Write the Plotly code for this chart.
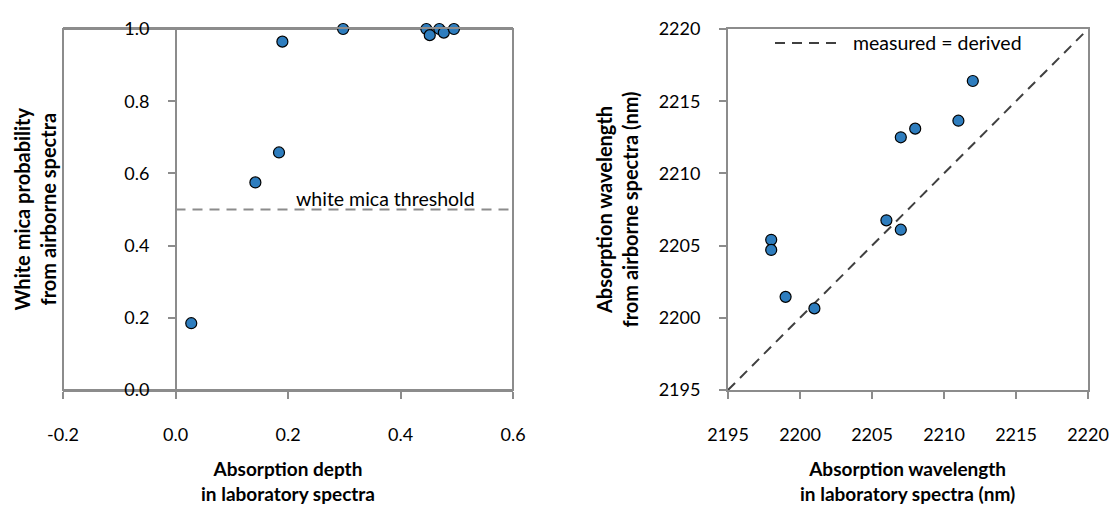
import plotly.graph_objects as go

# ---- data ----
depth_lab = [0.028, 0.142, 0.184, 0.190, 0.298, 0.446, 0.452, 0.469, 0.477, 0.495]
prob_air = [0.185, 0.575, 0.658, 0.965, 1.0, 1.0, 0.983, 1.0, 0.990, 1.0]

wl_lab = [2198, 2198, 2199, 2201, 2206, 2207, 2207, 2208, 2211, 2212]
wl_air = [2205.4, 2204.7, 2201.45, 2200.65, 2206.75, 2206.1, 2212.5, 2213.1, 2213.65, 2216.4]

threshold_x = [0.0, 0.6]
threshold_y = [0.5, 0.5]
identity = [2195, 2220]

x1_ticks = [-0.2, 0.0, 0.2, 0.4, 0.6]
y1_ticks = [0.0, 0.2, 0.4, 0.6, 0.8, 1.0]
wl_ticks = [2195, 2200, 2205, 2210, 2215, 2220]

W, H = 1111, 506
FONT = "Lato"
AX = "#8c8c8c"
BLUE = "#2E7DBE"

def px(x):
    return x / W

def py(y):
    return 1 - y / H

fig = go.Figure()

fig.add_trace(go.Scatter(x=threshold_x, y=threshold_y, mode="lines",
                         line=dict(color="#8c8c8c", width=2, dash="10px,7px"),
                         xaxis="x", yaxis="y", showlegend=False, hoverinfo="skip"))
fig.add_trace(go.Scatter(x=depth_lab, y=prob_air, mode="markers",
                         marker=dict(color=BLUE, size=11, line=dict(color="black", width=1.2)),
                         cliponaxis=False, xaxis="x", yaxis="y", showlegend=False))

fig.add_trace(go.Scatter(x=identity, y=identity, mode="lines",
                         line=dict(color="#404040", width=2, dash="10px,7px"),
                         xaxis="x2", yaxis="y2", showlegend=False, hoverinfo="skip"))
fig.add_trace(go.Scatter(x=wl_lab, y=wl_air, mode="markers",
                         marker=dict(color=BLUE, size=11, line=dict(color="black", width=1.2)),
                         cliponaxis=False, xaxis="x2", yaxis="y2", showlegend=False))

tickfont = dict(family=FONT, size=18, color="black")
ydom = [py(390), py(29)]

fig.update_layout(
    width=W, height=H,
    margin=dict(l=0, r=0, t=0, b=0),
    paper_bgcolor="white", plot_bgcolor="white",
    xaxis=dict(domain=[px(63), px(513)], range=[-0.2, 0.6], anchor="y",
               tickvals=x1_ticks, ticktext=["%.1f" % v for v in x1_ticks],
               showline=True, linecolor=AX, linewidth=2, mirror=True,
               ticks="outside", ticklen=7, tickcolor=AX, tickwidth=2,
               ticklabelstandoff=20, showgrid=False, zeroline=False,
               tickfont=tickfont, automargin=False),
    yaxis=dict(domain=ydom, range=[0, 1], anchor="free", position=px(176),
               tickvals=y1_ticks, ticktext=["%.1f" % v for v in y1_ticks],
               showline=True, linecolor=AX, linewidth=2,
               ticks="outside", ticklen=7, tickcolor=AX, tickwidth=2,
               ticklabelstandoff=15, showgrid=False, zeroline=False,
               tickfont=tickfont, automargin=False),
    xaxis2=dict(domain=[px(728), px(1088)], range=[2195, 2220], anchor="y2",
                tickvals=wl_ticks, ticktext=[str(v) for v in wl_ticks],
                showline=True, linecolor=AX, linewidth=2, mirror=True,
                ticks="outside", ticklen=7, tickcolor=AX, tickwidth=2,
                ticklabelstandoff=20, showgrid=False, zeroline=False,
                tickfont=tickfont, automargin=False),
    yaxis2=dict(domain=ydom, range=[2195, 2220], anchor="x2",
                tickvals=wl_ticks, ticktext=[str(v) for v in wl_ticks],
                showline=True, linecolor=AX, linewidth=2, mirror=True,
                ticks="outside", ticklen=7, tickcolor=AX, tickwidth=2,
                ticklabelstandoff=15, showgrid=False, zeroline=False,
                tickfont=tickfont, automargin=False),
    shapes=[
        dict(type="rect", xref="x domain", yref="y domain", x0=0, x1=1, y0=0, y1=1,
             line=dict(color=AX, width=2), layer="below"),
        dict(type="line", xref="x2 domain", yref="y2 domain",
             x0=(775 - 728) / 360, x1=(838 - 728) / 360,
             y0=1 - (43 - 29) / 361, y1=1 - (43 - 29) / 361,
             line=dict(color="#404040", width=2, dash="10px,7px")),
    ],
)

titlefont = dict(family=FONT, size=20, color="black", weight="bold")
bottomfont = dict(family=FONT, size=19, color="black", weight="bold")
ann = [
    dict(text="White mica probability<br>from airborne spectra", x=px(35), y=py(209.5),
         textangle=-90, font=titlefont),
    dict(text="Absorption depth<br>in laboratory spectra", x=px(288), y=py(481),
         font=bottomfont),
    dict(text="Absorption wavelength<br>from airborne spectra (nm)", x=px(617), y=py(209.5),
         textangle=-90, font=titlefont),
    dict(text="Absorption wavelength<br>in laboratory spectra (nm)", x=px(907), y=py(481),
         font=bottomfont),
]
for a in ann:
    fig.add_annotation(xref="paper", yref="paper", showarrow=False,
                       xanchor="center", yanchor="middle", **a)

fig.add_annotation(text="white mica threshold", xref="x", yref="y", x=0.373, y=0.5,
                   yshift=11, showarrow=False, xanchor="center", yanchor="middle",
                   font=dict(family=FONT, size=19.5, color="black"))
fig.add_annotation(text="measured = derived", xref="x2 domain", yref="y2 domain",
                   x=(851 - 728) / 360, y=1 - (43 - 29) / 361, showarrow=False,
                   xanchor="left", yanchor="middle",
                   font=dict(family=FONT, size=19.5, color="black"))

fig.write_html("out.html")
